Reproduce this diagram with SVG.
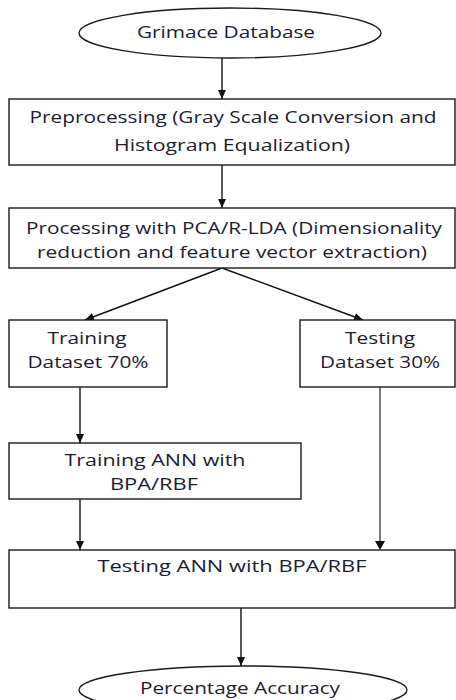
<svg xmlns="http://www.w3.org/2000/svg" width="456" height="700" viewBox="0 0 456 700">
<style>
.box{fill:#fff;stroke:#1a1a1a;stroke-width:1.4}
.t{font-family:"Open Sans","Noto Sans",sans-serif;font-size:16px;fill:#1c1c30;text-anchor:middle}
.c{stroke:#111;stroke-width:1.4;fill:none}
.g{stroke:#7a7a7a;stroke-width:2;fill:none}
</style>
<defs>
<marker id="ah" markerWidth="10" markerHeight="10" refX="9" refY="5" orient="auto" markerUnits="userSpaceOnUse">
<path d="M0,1 L9,5 L0,9 Z" fill="#111"/>
</marker>
</defs>
<rect width="456" height="700" fill="#fff"/>
<g id="connectors">
<line class="c" x1="222" y1="58" x2="222" y2="99" marker-end="url(#ah)"/>
<line class="c" x1="222" y1="165" x2="222" y2="208" marker-end="url(#ah)"/>
<line class="c" x1="222" y1="268" x2="85" y2="320" marker-end="url(#ah)"/>
<line class="c" x1="222" y1="268" x2="363" y2="320" marker-end="url(#ah)"/>
<line class="c" x1="80" y1="387" x2="80" y2="443" marker-end="url(#ah)"/>
<line class="c" x1="80" y1="499" x2="80" y2="550" marker-end="url(#ah)"/>
<line class="g" x1="380" y1="387" x2="380" y2="542"/>
<path d="M375,541 L385,541 L380,550 Z" fill="#111"/>
<line class="c" x1="241" y1="608" x2="241" y2="666" marker-end="url(#ah)"/>
</g>
<g id="grimace">
<ellipse class="box" cx="230" cy="33" rx="151" ry="25"/>
<text class="t" x="226" y="38" textLength="178" lengthAdjust="spacingAndGlyphs">Grimace Database</text>
</g>
<g id="preprocessing">
<rect class="box" x="9" y="99" width="446" height="66"/>
<text class="t" x="233" y="123" textLength="407" lengthAdjust="spacingAndGlyphs">Preprocessing (Gray Scale Conversion and</text>
<text class="t" x="232" y="151" textLength="236" lengthAdjust="spacingAndGlyphs">Histogram Equalization)</text>
</g>
<g id="processing">
<rect class="box" x="9" y="208" width="446" height="60"/>
<text class="t" x="234" y="234" textLength="416" lengthAdjust="spacingAndGlyphs">Processing with PCA/R-LDA (Dimensionality</text>
<text class="t" x="232" y="258" textLength="390" lengthAdjust="spacingAndGlyphs">reduction and feature vector extraction)</text>
</g>
<g id="training-dataset">
<rect class="box" x="9" y="320" width="158" height="67"/>
<text class="t" x="87" y="344" textLength="79" lengthAdjust="spacingAndGlyphs">Training</text>
<text class="t" x="88" y="368" textLength="121" lengthAdjust="spacingAndGlyphs">Dataset 70%</text>
</g>
<g id="testing-dataset">
<rect class="box" x="300" y="320" width="155" height="67"/>
<text class="t" x="380" y="344" textLength="70" lengthAdjust="spacingAndGlyphs">Testing</text>
<text class="t" x="380" y="368" textLength="120" lengthAdjust="spacingAndGlyphs">Dataset 30%</text>
</g>
<g id="training-ann">
<rect class="box" x="9" y="443" width="292" height="56"/>
<text class="t" x="155" y="466" textLength="181" lengthAdjust="spacingAndGlyphs">Training ANN with</text>
<text class="t" x="154" y="490" textLength="88" lengthAdjust="spacingAndGlyphs">BPA/RBF</text>
</g>
<g id="testing-ann">
<rect class="box" x="9" y="550" width="446" height="58"/>
<text class="t" x="232" y="572" textLength="269" lengthAdjust="spacingAndGlyphs">Testing ANN with BPA/RBF</text>
</g>
<g id="accuracy">
<ellipse class="box" cx="243" cy="690" rx="164" ry="24"/>
<text class="t" x="240" y="694" textLength="200" lengthAdjust="spacingAndGlyphs">Percentage Accuracy</text>
</g>
</svg>
